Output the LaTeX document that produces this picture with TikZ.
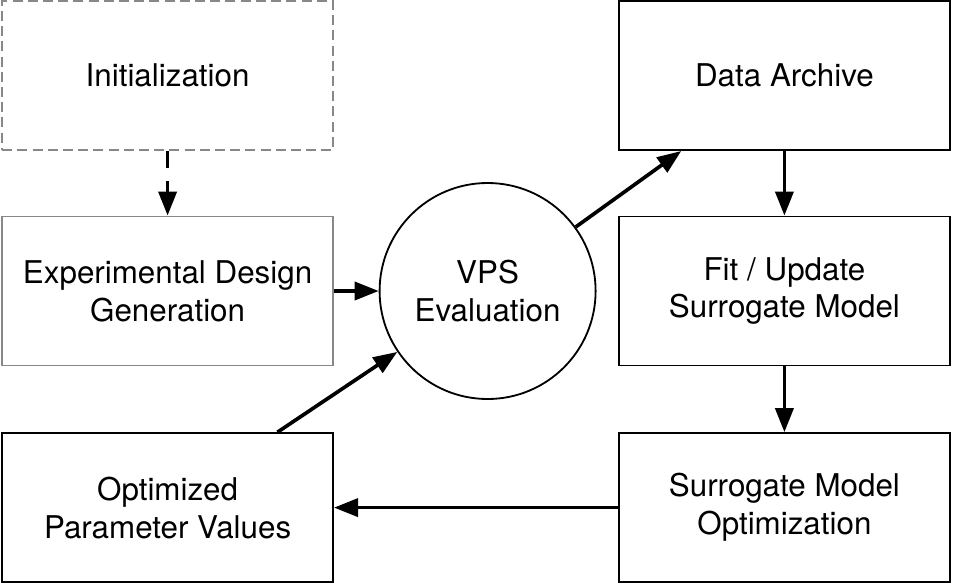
\documentclass[tikz,border=0pt]{standalone}
\usepackage{fontspec}
\setmainfont{TeX Gyre Heros}
\usepackage{tikz}
\usetikzlibrary{arrows.meta, positioning, calc}
\definecolor{boxgray}{RGB}{136,136,136}

\begin{document}
\begin{tikzpicture}[
  stage/.style={rectangle, draw=black, line width=1.3pt, align=center,
                minimum width=8.275cm, minimum height=3.725cm,
                font=\fontsize{22.3}{27}\selectfont},
  startbox/.style={stage, draw=boxgray, dash pattern=on 0.25cm off 0.13cm},
  designbox/.style={stage, draw=boxgray},
  evalnode/.style={circle, draw=black, line width=1.3pt, align=center,
                minimum size=5.4cm, inner sep=0pt,
                font=\fontsize{22.3}{27}\selectfont},
  arr/.style={-{Triangle[length=0.6cm, width=0.45cm]}, line width=2.6pt},
]
  \useasboundingbox (0,0) rectangle (23.825,-14.625);

  \node[startbox]  (init) at (4.19,-1.89)   {Initialization};
  \node[designbox] (edg)  at (4.19,-7.275)  {Experimental Design\\Generation};
  \node[stage]     (opt)  at (4.19,-12.69)  {Optimized\\Parameter Values};
  \node[evalnode]  (vps)  at (12.19,-7.275) {VPS\\Evaluation};
  \node[stage]     (arch) at (19.61,-1.89)  {Data Archive};
  \node[stage]     (fit)  at (19.61,-7.275) {Fit / Update\\Surrogate Model};
  \node[stage]     (smo)  at (19.61,-12.69) {Surrogate Model\\Optimization};

  \draw[arr, dash pattern=on 0.42cm off 0.33cm] (init) -- (edg);
  \draw[arr] (edg) -- (vps);
  \draw[arr] (vps.36) -- ($(arch.south west)!0.19!(arch.south east)$);
  \draw[arr] (arch) -- (fit);
  \draw[arr] (fit) -- (smo);
  \draw[arr] (smo) -- (opt);
  \draw[arr] ($(opt.north west)!0.83!(opt.north east)$) -- (vps.214);
\end{tikzpicture}
\end{document}
